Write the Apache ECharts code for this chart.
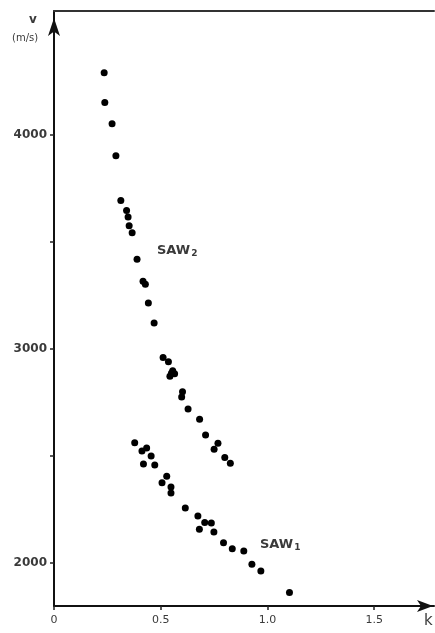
<!DOCTYPE html>
<html><head><meta charset="utf-8">
<script src="https://cdn.jsdelivr.net/npm/echarts@6/dist/echarts.min.js"></script>
<style>html,body{margin:0;padding:0;background:#fff}#c{width:435px;height:633px}</style>
</head><body><div id="c"></div>
<script>
// SAW2 branch: [k, v (m/s)]
const saw2 = [
  [0.235, 4291], [0.238, 4153], [0.272, 4053], [0.290, 3904],
  [0.313, 3695], [0.340, 3648], [0.347, 3618], [0.352, 3577], [0.366, 3544],
  [0.389, 3420], [0.417, 3317], [0.428, 3303], [0.442, 3216], [0.469, 3122],
  [0.511, 2961], [0.536, 2941], [0.556, 2899], [0.543, 2873], [0.565, 2885], [0.550, 2888],
  [0.602, 2801], [0.598, 2776], [0.628, 2721], [0.682, 2672],
  [0.710, 2599], [0.768, 2560], [0.750, 2532], [0.800, 2494], [0.826, 2467]
];
// SAW1 branch: [k, v (m/s)]
const saw1 = [
  [0.378, 2563], [0.412, 2524], [0.434, 2538], [0.455, 2501], [0.419, 2463],
  [0.472, 2459], [0.528, 2406], [0.506, 2376], [0.548, 2356], [0.548, 2328],
  [0.615, 2258], [0.674, 2221], [0.706, 2190], [0.737, 2188], [0.681, 2159],
  [0.749, 2146], [0.794, 2095], [0.835, 2067], [0.889, 2057], [0.927, 1995],
  [0.969, 1963], [1.103, 1863]
];
const xTicks = [0, 0.5, 1.0, 1.5];
const xTickLabels = ['0', '0.5', '1.0', '1.5'];
const yTicks = [2000, 2500, 3000, 3500, 4000];
const yLabels = [2000, 3000, 4000];

const chart = echarts.init(document.getElementById('c'));
const txt = '#3a3a3a';
const font = 'DejaVu Sans';
chart.setOption({
  animation: false,
  backgroundColor: '#fff',
  grid: { left: 54, right: 1, top: 11, bottom: 27 },
  xAxis: [{
    type: 'value', min: 0, max: 1.78,
    splitLine: { show: false },
    axisLine: { show: true, onZero: false, lineStyle: { color: '#111', width: 2 },
      symbol: ['none', 'arrow'], symbolSize: [9, 16], symbolOffset: [0, -1] },
    axisTick: { show: true, inside: false, length: 4, customValues: xTicks, lineStyle: { color: '#222', width: 1.5 } },
    axisLabel: { customValues: xTicks, color: txt, fontFamily: font, fontSize: 11, margin: 9,
      formatter: v => xTickLabels[xTicks.indexOf(v)] }
  }, {
    type: 'value', position: 'top', min: 0, max: 1.78,
    splitLine: { show: false },
    axisLine: { show: true, onZero: false, lineStyle: { color: '#333', width: 2 } },
    axisTick: { show: false }, axisLabel: { show: false }
  }],
  yAxis: {
    type: 'value', min: 1800, max: 4580,
    splitLine: { show: false },
    axisLine: { show: true, onZero: false, lineStyle: { color: '#111', width: 2 },
      symbol: ['none', 'arrow'], symbolSize: [9, 18], symbolOffset: [0, -7] },
    axisTick: { show: true, length: 4, customValues: yTicks, lineStyle: { color: '#222', width: 1.5 } },
    axisLabel: { customValues: yLabels, color: txt, fontFamily: font, fontSize: 12, fontWeight: 'bold', margin: 7,
      formatter: v => String(v) }
  },
  series: [
    { name: 'SAW2', type: 'scatter', data: saw2, symbolSize: 7, itemStyle: { color: '#000', opacity: 1 } },
    { name: 'SAW1', type: 'scatter', data: saw1, symbolSize: 7, itemStyle: { color: '#000', opacity: 1 } }
  ],
  graphic: [
    { type: 'text', left: 29, top: 14, style: { text: 'v', fill: txt, font: 'bold 12px "DejaVu Sans"' } },
    { type: 'text', left: 12, top: 33, style: { text: '(m/s)', fill: txt, font: '10px "DejaVu Sans"' } },
    { type: 'text', left: 424, top: 614, style: { text: 'k', fill: txt, font: '15px "DejaVu Sans"' } },
    { type: 'text', left: 157, top: 244, style: { text: '{a|SAW}{b|2}', rich: {
        a: { fill: txt, fontFamily: font, fontSize: 13, fontWeight: 'bold' },
        b: { fill: txt, fontFamily: font, fontSize: 9, fontWeight: 'bold', verticalAlign: 'bottom', padding: [6, 0, 0, 1] } } } },
    { type: 'text', left: 260, top: 538, style: { text: '{a|SAW}{b|1}', rich: {
        a: { fill: txt, fontFamily: font, fontSize: 13, fontWeight: 'bold' },
        b: { fill: txt, fontFamily: font, fontSize: 9, fontWeight: 'bold', verticalAlign: 'bottom', padding: [6, 0, 0, 1] } } } }
  ]
});
</script></body></html>
